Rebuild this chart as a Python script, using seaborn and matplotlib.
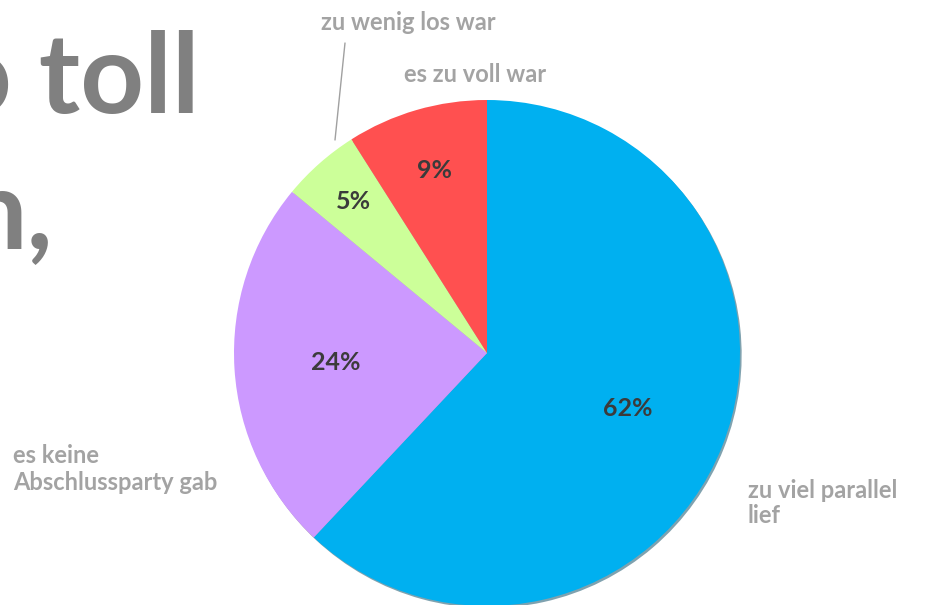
import numpy as np
import matplotlib.pyplot as plt
import seaborn as sns

# pie data (clockwise from 12 o'clock)
categories = ['zu viel parallel lief', 'es keine Abschlussparty gab', 'zu wenig los war', 'es zu voll war']
shares = [62, 24, 5, 9]
colors = ['#00B0F0', '#CC99FF', '#CCFF99', '#FF5050']
pct_dist = [0.6, 0.6, 0.8, 0.75]

sns.set_theme(style='white')
plt.rcParams['font.family'] = ['Lato', 'DejaVu Sans']

W, H = 927, 605
fig = plt.figure(figsize=(W / 100, H / 100), dpi=100)
ax = fig.add_axes([0, 0, 1, 1])

cx, cy, r = 487, H - 353, 253

wedges, texts, autotexts = ax.pie(
    shares, colors=colors, startangle=90, counterclock=False,
    center=(cx, cy), radius=r, autopct='%d%%',
    shadow={'ox': 1.2, 'oy': -1.5, 'shade': 0.6},
    wedgeprops={'linewidth': 0},
    textprops={'fontsize': 18, 'fontweight': 'bold', 'color': '#3B3B3B'},
    frame=True)
ax.set_xlim(0, W)
ax.set_ylim(0, H)
ax.set_aspect('equal')
ax.axis('off')

# move the percentage labels along each wedge's mid angle
for w, t, d in zip(wedges, autotexts, pct_dist):
    ang = np.deg2rad((w.theta1 + w.theta2) / 2)
    t.set_position((cx + d * r * np.cos(ang), cy + d * r * np.sin(ang)))

def px(y):
    return H - y

lab = dict(fontsize=17, fontweight='bold', color='#A3A3A3')
ax.text(408, px(30), 'zu wenig los war', ha='center', va='baseline', **lab)
ax.text(475, px(82), 'es zu voll war', ha='center', va='baseline', **lab)
ax.text(13, px(463), 'es keine', ha='left', va='baseline', **lab)
ax.text(13, px(490), 'Abschlussparty gab', ha='left', va='baseline', **lab)
ax.text(748, px(498), 'zu viel parallel', ha='left', va='baseline', **lab)
ax.text(748, px(523), 'lief', ha='left', va='baseline', **lab)
ax.plot([345, 335], [px(43), px(140)], color='#A0A0A0', lw=1)

# cropped title on the left
big = dict(fontsize=80, fontweight='bold', color='#808080')
ax.text(200, px(113), 'o toll', ha='right', va='baseline', **big)
ax.text(53, px(248), 'n,', ha='right', va='baseline', **big)

fig.savefig('out.png', dpi=100)
